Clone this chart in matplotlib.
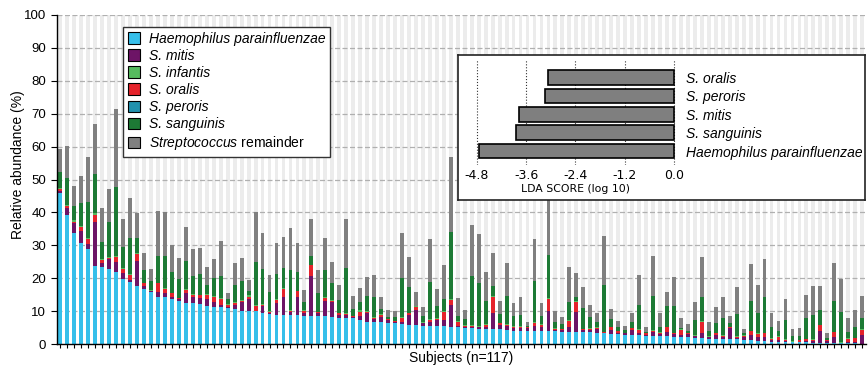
import matplotlib.pyplot as plt
from matplotlib.patches import Patch
import numpy as np

plt.rcParams['font.family'] = ['Liberation Sans', 'DejaVu Sans']
plt.rcParams['mathtext.fontset'] = 'custom'
plt.rcParams['mathtext.it'] = 'Liberation Sans:italic'
plt.rcParams['mathtext.rm'] = 'Liberation Sans'

# relative abundance (%) per subject, sorted by Haemophilus
hpar = [45.8, 39.2, 33.7, 30.8, 29.0, 23.8, 23.6, 22.8, 22.0, 19.9,
        18.9, 17.8, 16.9, 15.9, 14.2, 14.2, 13.7, 13.1, 12.6, 12.4,
        12.2, 11.7, 11.4, 11.2, 10.9, 10.6, 10.2, 10.0, 10.0, 9.4,
        9.2, 9.0, 8.9, 8.8, 8.8, 8.7, 8.6, 8.6, 8.6, 8.4,
        8.1, 8.1, 7.9, 7.4, 6.9, 6.8, 6.7, 6.6, 6.4, 6.2,
        5.9, 5.9, 5.7, 5.7, 5.7, 5.6, 5.4, 5.1, 4.9, 4.9,
        4.7, 4.7, 4.6, 4.5, 4.4, 4.1, 4.1, 4.1, 4.0, 4.0,
        4.0, 3.9, 3.8, 3.8, 3.8, 3.7, 3.6, 3.3, 3.3, 3.1,
        3.0, 2.9, 2.8, 2.7, 2.6, 2.5, 2.5, 2.5, 2.3, 2.1,
        2.1, 2.0, 1.8, 1.6, 1.6, 1.6, 1.6, 1.5, 1.4, 1.3,
        1.1, 0.9, 0.8, 0.8, 0.8, 0.6, 0.6, 0.6, 0.5, 0.5,
        0.4, 0.4, 0.3, 0.3, 0.3, 0.2]
mitis = [0.7, 2.1, 3.1, 3.5, 1.5, 13.2, 1.0, 3.0, 2.9, 1.6,
         0.5, 7.5, 0.8, 0.3, 1.6, 1.5, 0.6, 0.5, 2.9, 1.9,
         1.7, 2.0, 1.5, 0.7, 0.5, 1.3, 2.5, 3.8, 0.2, 2.2,
         0.4, 3.6, 5.6, 1.1, 5.7, 0.9, 12.1, 0.8, 4.6, 4.3,
         0.8, 0.9, 0.5, 1.2, 2.5, 0.8, 1.6, 0.8, 0.4, 0.7,
         3.0, 4.5, 0.7, 1.2, 1.7, 1.8, 6.5, 0.5, 0.3, 0.5,
         0.4, 0.7, 4.8, 1.4, 1.2, 0.9, 0.7, 0.7, 1.7, 1.4,
         6.2, 0.5, 0.5, 1.3, 6.0, 0.6, 0.8, 1.3, 0.2, 1.3,
         0.5, 0.4, 1.6, 0.6, 0.3, 1.3, 0.6, 1.3, 0.8, 0.7,
         0.9, 0.4, 1.5, 0.5, 1.2, 0.5, 3.2, 0.3, 0.8, 1.6,
         1.0, 1.4, 0.5, 0.5, 0.3, 0.2, 0.2, 0.5, 0.4, 3.5,
         0.5, 1.7, 0.1, 0.5, 0.5, 2.6]
oralis = [0.5, 0.8, 0.4, 1.2, 1.4, 2.2, 1.0, 0.3, 1.5, 1.4,
          1.6, 2.0, 0.8, 0.0, 2.7, 1.2, 1.2, 0.3, 1.0, 0.7,
          1.0, 1.3, 1.6, 1.9, 0.5, 0.6, 0.5, 0.7, 1.4, 0.3,
          0.2, 0.8, 2.4, 0.3, 1.6, 0.5, 3.3, 0.3, 0.9, 0.4,
          0.5, 0.2, 0.1, 1.3, 0.4, 0.5, 0.6, 0.2, 0.2, 1.2,
          0.5, 1.0, 0.2, 0.5, 0.4, 2.5, 1.6, 1.3, 0.4, 0.3,
          0.3, 0.5, 5.1, 0.5, 0.3, 0.4, 0.6, 0.4, 0.9, 0.5,
          3.5, 0.3, 0.2, 2.0, 3.1, 0.2, 0.3, 0.3, 0.1, 0.7,
          0.4, 0.1, 0.4, 1.1, 0.4, 0.3, 0.4, 1.3, 0.2, 1.6,
          0.3, 0.2, 3.6, 0.2, 0.5, 0.4, 0.4, 0.5, 0.4, 1.0,
          1.0, 1.0, 0.3, 1.0, 0.2, 0.0, 0.4, 0.4, 0.4, 1.8,
          0.4, 1.5, 0.0, 0.9, 1.0, 1.6]
infantis = [0.3, 0.2, 0.4, 0.3, 0.3, 0.5, 0.3, 0.3, 0.3, 0.3,
            0.2, 0.5, 0.2, 0.2, 0.2, 0.2, 0.2, 0.2, 0.2, 0.2,
            0.2, 0.2, 0.2, 0.2, 0.2, 0.2, 0.2, 0.4, 0.2, 0.2,
            0.2, 0.2, 0.2, 0.2, 0.2, 0.2, 0.2, 0.2, 0.2, 0.2,
            0.2, 0.3, 0.2, 0.5, 0.2, 0.2, 0.3, 0.2, 0.2, 0.2,
            0.2, 0.1, 0.2, 0.2, 0.2, 0.2, 0.2, 0.2, 0.2, 0.2,
            0.2, 0.2, 0.2, 0.2, 0.2, 0.2, 0.2, 0.1, 0.2, 0.2,
            0.2, 0.2, 0.1, 0.2, 0.2, 0.2, 0.2, 0.2, 0.2, 0.2,
            0.1, 0.1, 0.2, 0.2, 0.1, 0.2, 0.2, 0.2, 0.2, 0.1,
            0.1, 0.2, 0.2, 0.1, 0.2, 0.2, 0.1, 0.2, 0.1, 0.2,
            0.2, 0.2, 0.2, 0.1, 0.2, 0.1, 0.1, 0.2, 0.2, 0.2,
            0.1, 0.2, 0.2, 0.1, 0.2, 0.2]
peroris = [0.0, 0.0, 0.0, 0.0, 0.0, 0.0, 0.0, 0.0, 0.0, 0.0,
           0.0, 0.0, 0.0, 0.0, 0.0, 0.0, 0.0, 0.0, 0.0, 0.0,
           0.0, 0.0, 0.0, 0.0, 0.0, 0.0, 0.0, 0.0, 0.0, 0.0,
           0.0, 0.0, 0.0, 0.0, 0.0, 0.0, 0.0, 0.0, 0.0, 0.0,
           0.0, 0.0, 0.0, 0.0, 0.0, 0.0, 0.0, 0.0, 0.0, 0.0,
           0.0, 0.0, 0.0, 0.0, 0.0, 0.0, 0.0, 0.0, 0.0, 0.0,
           0.0, 0.0, 0.0, 0.0, 0.0, 0.0, 0.0, 0.0, 0.0, 0.0,
           0.0, 0.0, 0.0, 0.0, 0.0, 0.0, 0.0, 0.0, 0.0, 0.0,
           0.0, 0.0, 0.0, 0.0, 0.0, 0.0, 0.0, 0.0, 0.0, 0.0,
           0.0, 0.0, 0.0, 0.0, 0.0, 0.0, 0.0, 0.0, 0.0, 0.0,
           0.0, 0.0, 0.0, 0.0, 0.0, 0.0, 0.0, 0.0, 0.0, 0.0,
           0.0, 0.0, 0.0, 0.0, 0.0, 0.0]
sanguinis = [5.0, 8.2, 4.4, 7.0, 11.1, 11.9, 5.2, 10.8, 21.1, 6.4,
             10.9, 4.3, 3.8, 2.8, 8.2, 9.7, 6.2, 5.6, 8.6, 5.5,
             6.2, 2.8, 5.3, 6.7, 1.5, 5.3, 5.9, 1.4, 13.2, 10.7,
             6.0, 7.7, 6.2, 12.0, 5.7, 2.5, 2.6, 5.6, 8.3, 5.4,
             3.7, 13.8, 1.9, 2.3, 4.8, 5.9, 1.4, 0.6, 1.2, 11.9,
             7.9, 0.2, 1.9, 11.4, 3.6, 3.7, 20.5, 1.5, 1.8, 14.7,
             13.1, 6.9, 3.1, 2.5, 8.7, 3.0, 3.4, 0.3, 12.5, 2.5,
             13.2, 1.8, 1.6, 5.6, 1.4, 6.2, 3.3, 1.8, 14.3, 2.3,
             1.2, 0.8, 1.7, 7.3, 0.4, 10.5, 1.7, 6.4, 8.2, 0.5,
             0.7, 4.6, 7.4, 1.7, 3.1, 5.4, 1.3, 6.7, 0.7, 9.0,
             6.3, 10.7, 3.6, 1.7, 5.9, 1.7, 1.2, 6.4, 7.4, 4.4,
             0.4, 9.4, 9.3, 2.0, 3.2, 3.5]
remainder = [6.9, 9.7, 5.9, 8.3, 13.5, 15.2, 10.4, 9.9, 23.7, 8.5,
             12.4, 7.8, 5.2, 3.7, 13.5, 13.2, 8.3, 6.4, 10.4, 8.3,
             7.9, 5.6, 6.0, 10.6, 2.1, 6.7, 7.0, 3.2, 15.0, 11.1,
             5.0, 9.3, 9.2, 12.8, 8.8, 3.7, 11.1, 6.9, 9.8, 6.4,
             4.7, 14.7, 4.1, 4.5, 5.6, 6.9, 3.9, 2.0, 1.7, 13.5,
             8.9, 4.1, 2.5, 12.9, 5.1, 10.3, 22.6, 5.4, 2.8, 15.7,
             14.7, 8.8, 9.8, 4.1, 9.9, 3.8, 5.4, 1.1, 12.7, 3.8,
             17.9, 3.4, 2.2, 10.5, 7.1, 6.6, 3.7, 2.7, 14.8, 3.1,
             1.9, 1.3, 2.9, 9.0, 1.3, 12.0, 4.2, 4.1, 8.6, 3.1,
             2.1, 5.3, 12.1, 2.8, 4.6, 6.2, 2.0, 8.1, 1.1, 11.4,
             8.4, 11.6, 4.2, 3.0, 6.3, 2.0, 2.4, 6.9, 8.8, 7.3,
             1.5, 11.6, 9.9, 4.3, 5.2, 6.6]

# LEfSe result
lda_species = ['Haemophilus parainfluenzae', 'S. sanguinis', 'S. mitis', 'S. peroris', 'S. oralis']
lda_scores = [-4.75, -3.86, -3.78, -3.15, -3.07]
lda_ticks = ['-4.8', '-3.6', '-2.4', '-1.2', '0.0']

# stacking order bottom -> top
layers = [
    (hpar, '#36bfea'),
    (mitis, '#6d1466'),
    (oralis, '#e5232b'),
    (infantis, '#56bb5f'),
    (peroris, '#2191ad'),
    (sanguinis, '#1d7a35'),
    (remainder, '#808080'),
]

fig = plt.figure(figsize=(8.68, 3.68), dpi=100)
ax = fig.add_axes([56.7 / 868, 1 - 344.3 / 368, (866 - 56.7) / 868, 329.6 / 368])

x = np.arange(len(hpar))
w = 0.55
ax.bar(x, 100, width=w, color='#ececec', linewidth=0, zorder=0.1)
bottom = np.zeros(len(hpar))
for vals, col in layers:
    ax.bar(x, vals, width=w, bottom=bottom, color=col, linewidth=0, zorder=2)
    bottom += np.array(vals)

ax.set_xlim(-0.53, len(hpar) - 0.45)
ax.set_ylim(0, 100)
ax.set_yticks(np.arange(0, 101, 10))
ax.set_xticks(x)
ax.set_xticklabels([])
ax.tick_params(axis='x', length=3, width=0.8)
ax.tick_params(axis='y', length=4, width=0.8, labelsize=9.5)
ax.yaxis.grid(True, linestyle=(0, (4, 2)), color='#b0b0b0', linewidth=0.9)
ax.set_axisbelow(True)
for s in ['top', 'right']:
    ax.spines[s].set_visible(False)
ax.spines['left'].set_linewidth(1.0)
ax.spines['bottom'].set_linewidth(1.0)
ax.set_ylabel('Relative abundance (%)', fontsize=10)
ax.yaxis.set_label_coords(-0.039, 0.544)
ax.set_xlabel('Subjects (n=117)', fontsize=10)
ax.xaxis.set_label_coords(0.5, -0.02)

names = ['Haemophilus parainfluenzae', 'S. mitis', 'S. infantis', 'S. oralis',
         'S. peroris', 'S. sanguinis', r'$\it{Streptococcus}$ remainder']
leg_cols = ['#36bfea', '#6d1466', '#56bb5f', '#e5232b', '#2191ad', '#1d7a35', '#808080']
handles = [Patch(facecolor=c, edgecolor='black', linewidth=0.8) for c in leg_cols]
leg = ax.legend(handles, names, loc='upper left', bbox_to_anchor=(123 / 868, 1 - 27 / 368),
                bbox_transform=fig.transFigure, borderaxespad=0, fontsize=10,
                fancybox=False, framealpha=1, edgecolor='#333333', handlelength=0.9,
                handleheight=0.9, handletextpad=0.6, labelspacing=0.22, borderpad=0.35)
leg.get_frame().set_linewidth(1.0)
for t in leg.get_texts()[:6]:
    t.set_fontstyle('italic')

# LDA inset: white box, then bar axes on top
box = fig.add_axes([458 / 868, 1 - 200 / 368, 407 / 868, 145 / 368])
box.set_xticks([])
box.set_yticks([])
box.set_facecolor('white')
for s in box.spines.values():
    s.set_linewidth(1.2)
    s.set_color('#222222')
box.set_zorder(3)

ins = fig.add_axes([474.9 / 868, 1 - 165 / 368, (676 - 474.9) / 868, 105 / 368])
ins.set_zorder(4)
ins.patch.set_alpha(0)
ypos = np.arange(len(lda_species))
ins.barh(ypos, lda_scores, height=0.8, color='#7f7f7f', edgecolor='black', linewidth=1.2, zorder=2)
ins.set_xlim(-4.85, 0.05)
ins.set_ylim(-0.76, 4.95)
ins.set_xticks([float(t) for t in lda_ticks])
ins.set_xticklabels(lda_ticks, family='DejaVu Sans', fontsize=9)
ins.xaxis.grid(True, linestyle=':', color='#333333', linewidth=0.8)
ins.set_axisbelow(True)
ins.tick_params(axis='x', length=0, pad=3)
ins.yaxis.tick_right()
ins.set_yticks(ypos)
ins.set_yticklabels(lda_species, fontsize=10, fontstyle='italic')
ins.tick_params(axis='y', length=0, pad=7)
for s in ins.spines.values():
    s.set_visible(False)
ins.set_xlabel('LDA SCORE (log 10)', family='DejaVu Sans', fontsize=7.8, labelpad=1)

fig.savefig('out.png', dpi=100)
